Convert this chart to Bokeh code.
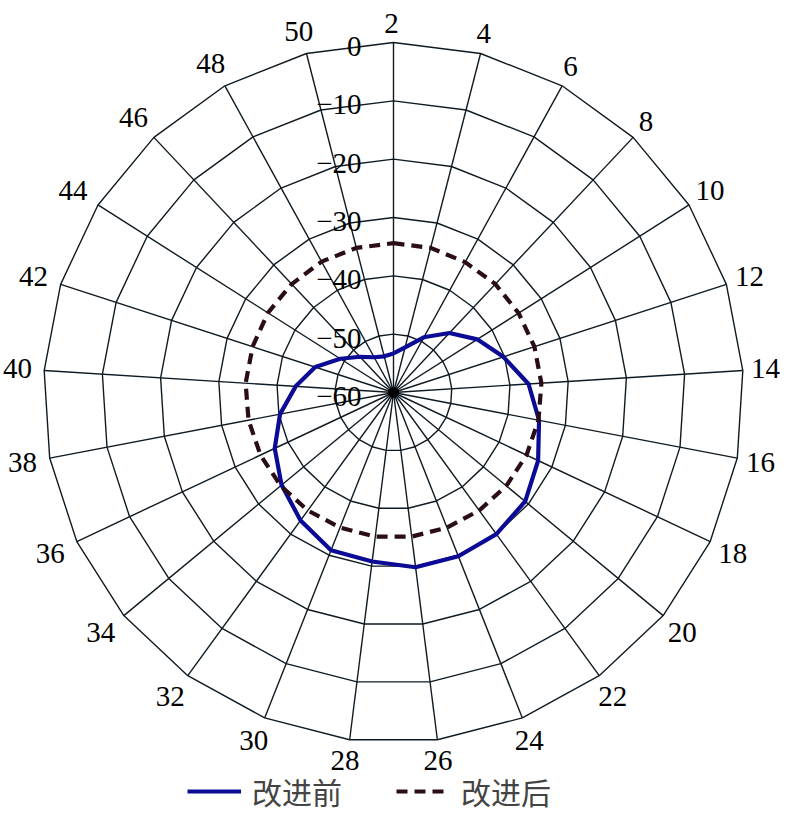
import numpy as np
from bokeh.plotting import figure
from bokeh.models import Range1d, Legend, LegendItem
from bokeh.core.properties import value
from bokeh.embed import file_html
from bokeh.resources import INLINE

# ---- data -------------------------------------------------------------
angle_labels = ["2", "4", "6", "8", "10", "12", "14", "16", "18", "20",
                "22", "24", "26", "28", "30", "32", "34", "36", "38", "40",
                "42", "44", "46", "48", "50"]
radial_ticks = [0, -10, -20, -30, -40, -50, -60]
radial_tick_labels = ["0", "\u221210", "\u221220", "\u221230", "\u221240", "\u221250", "\u221260"]

before = [-53.3, -52.0, -49.2, -46.0, -43.0, -40.2, -36.8, -34.6, -32.6, -30.7,
          -30.0, -29.8, -29.8, -30.8, -30.9, -32.9, -35.1, -37.5, -40.2, -43.2,
          -45.9, -49.2, -51.6, -53.1, -53.6]
after = [-34.4, -34.4, -34.5, -34.5, -34.6, -34.6, -34.6, -34.7, -34.8, -34.9,
         -35.0, -35.1, -35.1, -35.1, -35.1, -35.0, -34.9, -34.8, -34.7, -34.6,
         -34.6, -34.5, -34.5, -34.4, -34.4]
series_names = ["改进前", "改进后"]

# ---- layout constants -------------------------------------------------
R_MIN, R_MAX = -60, 0
PX = 350  # outer ring radius (screen px == data units here)
n = len(angle_labels)
theta = np.arange(n) * 2 * np.pi / n  # clockwise from top


def to_xy(vals, th):
    r = (np.asarray(vals, dtype=float) - R_MIN) / (R_MAX - R_MIN) * PX
    return r * np.sin(th), r * np.cos(th)


p = figure(width=784, height=819, x_range=Range1d(-393, 391), y_range=Range1d(-427, 392),
           output_backend="svg", toolbar_location=None, min_border=0,
           x_axis_type=None, y_axis_type=None)
p.grid.visible = False
p.outline_line_color = None

grid_color = "#0f1a22"
# rings (polygons through spokes)
th_closed = np.append(theta, theta[0])
ring_xs, ring_ys = [], []
for t in radial_ticks[:-1]:
    x, y = to_xy(np.full(len(th_closed), t), th_closed)
    ring_xs.append(list(x))
    ring_ys.append(list(y))
p.multi_line(ring_xs, ring_ys, line_color=grid_color, line_width=1.4)

# spokes
ox, oy = to_xy(np.full(n, R_MAX), theta)
p.segment(x0=np.zeros(n), y0=np.zeros(n), x1=ox, y1=oy, line_color=grid_color, line_width=1.4)
p.scatter([0], [0], size=10, color="black")

# series
bx, by = to_xy(before + before[:1], th_closed)
r_before = p.line(bx, by, line_color="#0b0b96", line_width=4.2)
ax, ay = to_xy(after + after[:1], th_closed)
r_after = p.line(ax, ay, line_color="#2a0d17", line_width=4.2, line_dash="11 7")

# angular labels
lx, ly = [], []
for k, lab in enumerate(angle_labels):
    hw = 7.5 * len(lab)
    rr = PX + 9 + hw * abs(np.sin(theta[k])) + 10.5 * abs(np.cos(theta[k]))
    lx.append(rr * np.sin(theta[k]) - 2)
    ly.append(rr * np.cos(theta[k]))
p.text(lx, ly, text=angle_labels, text_align="center", text_baseline="middle",
       text_font=value("Liberation Serif"), text_font_size="29px", text_color="black")

# radial labels along the top spoke
_, ry = to_xy(radial_ticks, np.zeros(len(radial_ticks)))
p.text(np.full(len(ry), -32.0), ry - 4, text=radial_tick_labels, text_align="right",
       text_baseline="middle", text_font=value("Liberation Serif"), text_font_size="29px",
       text_color="black")

legend = Legend(items=[LegendItem(label=series_names[0], renderers=[r_before]),
                       LegendItem(label=series_names[1], renderers=[r_after])],
                location=(187, 6), orientation="horizontal", glyph_width=54, glyph_height=20,
                label_standoff=11, spacing=54, padding=0, margin=0,
                border_line_color=None, background_fill_alpha=0,
                label_text_font="Noto Sans CJK SC", label_text_font_size="30px")
p.add_layout(legend)

open("out.html", "w").write(file_html(p, INLINE))
